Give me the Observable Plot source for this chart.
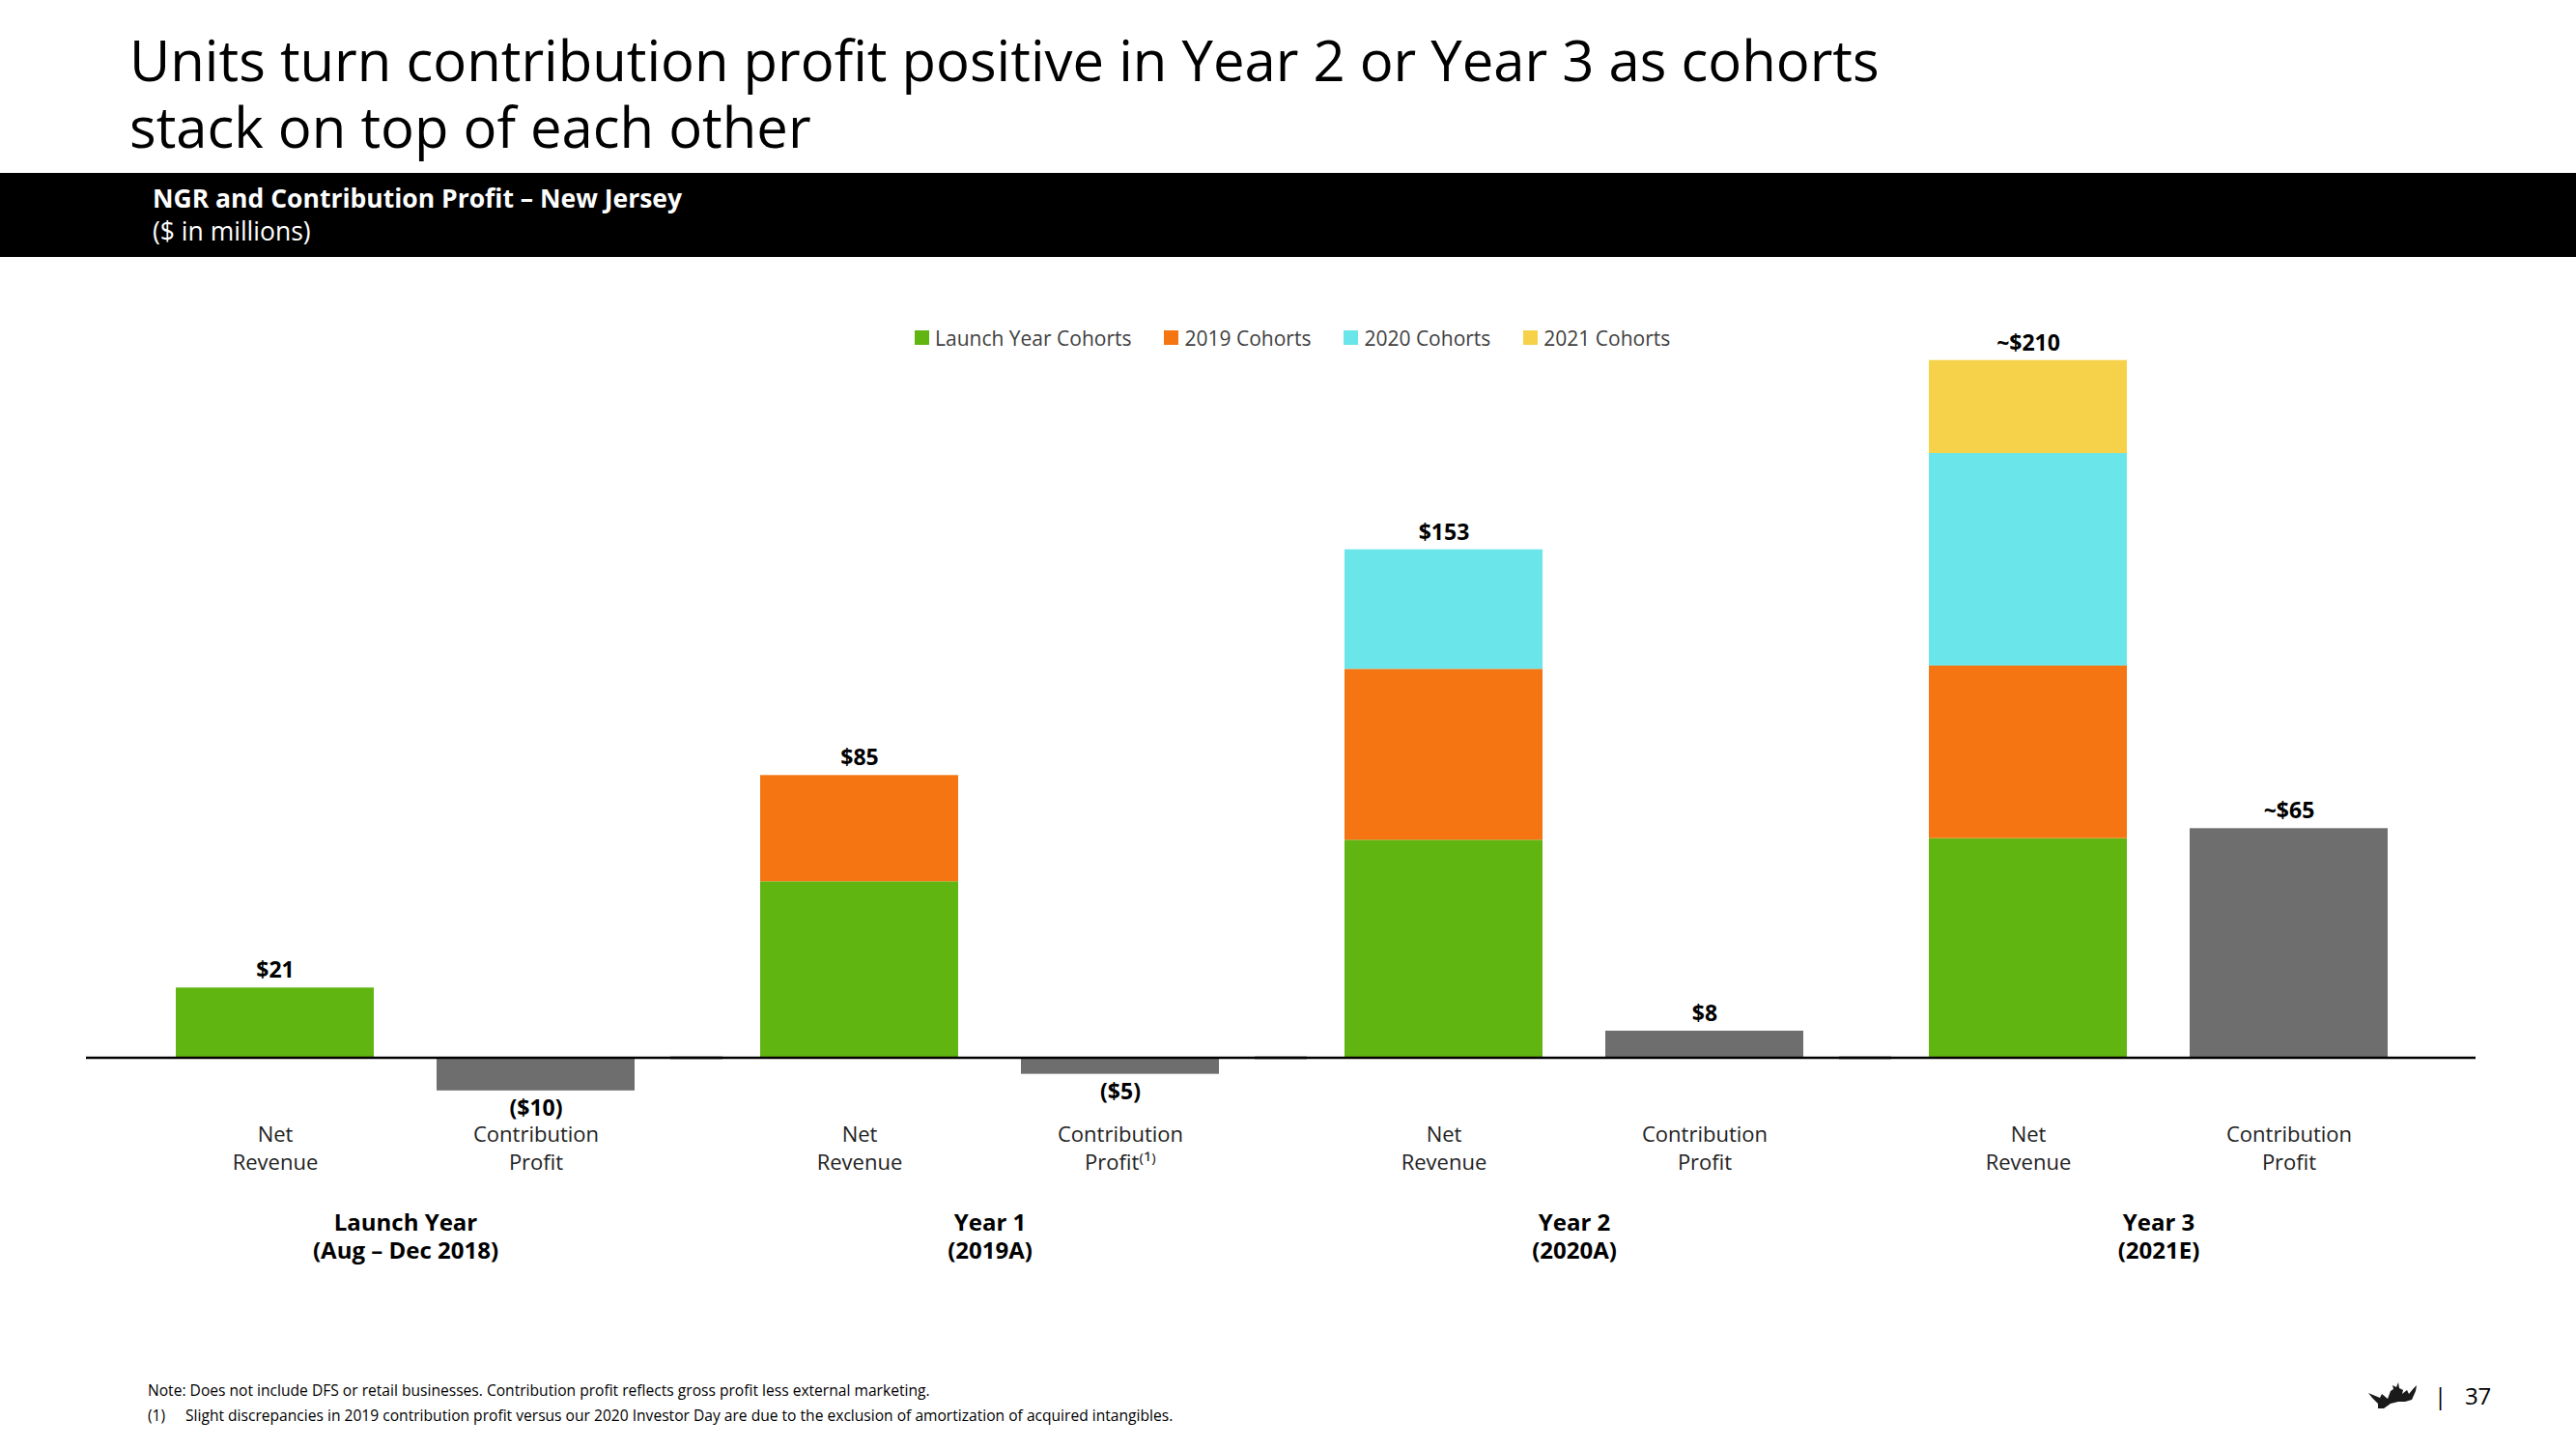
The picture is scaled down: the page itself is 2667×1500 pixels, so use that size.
<!DOCTYPE html>
<html><head><meta charset="utf-8">
<script src="https://cdn.jsdelivr.net/npm/d3@7"></script>
<script src="https://cdn.jsdelivr.net/npm/@observablehq/plot@0.6"></script>
<style>
body{margin:0;background:#fff;font-family:"Open Sans",sans-serif;}
#page{position:relative;width:2667px;height:1500px;overflow:hidden;background:#fff;}
#title{position:absolute;left:134px;top:27px;font-size:58px;line-height:69px;color:#000;white-space:nowrap;}
#band{position:absolute;left:0;top:179px;width:2667px;height:87px;background:#000;}
#sub1{position:absolute;left:158px;top:188px;font-size:26.5px;line-height:34px;font-weight:700;color:#fff;}
#sub2{position:absolute;left:158px;top:222px;font-size:26.5px;line-height:34px;color:#fff;}
#chart{position:absolute;left:0;top:266px;}
#legend{position:absolute;left:947px;top:333px;}
#legend .lg-swatch{margin-right:34px;}
#legend .lg-swatch > svg{margin-right:6px;}
#note{position:absolute;left:153px;top:1426px;font-size:15.6px;line-height:26px;color:#000;}
#note span{display:inline-block;width:39px;}
#pg{position:absolute;left:2520px;top:1428px;font-size:24px;color:#000;}
#crown{position:absolute;left:2450px;top:1425px;}
</style></head>
<body><div id="page">
<div id="title">Units turn contribution profit positive in Year 2 or Year 3 as cohorts<br>stack on top of each other</div>
<div id="band"></div>
<div id="sub1">NGR and Contribution Profit – New Jersey</div>
<div id="sub2">($ in millions)</div>
<div id="chart"></div>
<div id="legend"></div>
<div id="note">Note: Does not include DFS or retail businesses. Contribution profit reflects gross profit less external marketing.<br><span>(1)</span>Slight discrepancies in 2019 contribution profit versus our 2020 Investor Day are due to the exclusion of amortization of acquired intangibles.</div>
<svg id="crown" width="60" height="40" viewBox="0 0 60 40"><path d="M2 17 L14 22 L16 18 L22 23 L25 15 L28 13 L27 9 L31 11 L33 6 L34 12 L38 14 L37 18 L42 14 L44 18 L49 12 L52 9 L51 15 L47 24 L40 26 L33 26 L25 28 L18 33 L12 33 L12 28 L6 22 Z" fill="#1a1a1a"/></svg>
<div id="pg">|&nbsp;&nbsp;&nbsp;37</div>
</div>
<script>
const years = ["Launch Year\n(Aug – Dec 2018)", "Year 1\n(2019A)", "Year 2\n(2020A)", "Year 3\n(2021E)"];
const measures = ["Net Revenue", "Contribution Profit"];
const measureLabels = ["Net\nRevenue", "Contribution\nProfit"];
const profitNotes = ["", "⁽¹⁾", "", ""];
const cohorts = ["Launch Year Cohorts", "2019 Cohorts", "2020 Cohorts", "2021 Cohorts"];
const cohortColors = ["#60B511", "#F47511", "#6AE6EA", "#F5D24A"];
const profitColor = "#6E6E6E";
const launchCohort = [21, 53, 65.5, 66];
const cohort2019 = [0, 32, 51.5, 52];
const cohort2020 = [0, 0, 36, 64];
const cohort2021 = [0, 0, 0, 28];
// contribution profit bar heights as drawn (Year 3 bar is drawn at ~69 though labelled ~$65)
const contributionProfit = [-10, -5, 8, 69];
const revenueLabels = ["$21", "$85", "$153", "~$210"];
const profitLabels = ["($10)", "($5)", "$8", "~$65"];

const series = [launchCohort, cohort2019, cohort2020, cohort2021];
const revenueRows = years.flatMap((year, i) =>
  series.map((s, j) => ({year, measure: measures[0], cohort: cohorts[j], value: s[i]})).filter(d => d.value > 0));
const profitRows = years.map((year, i) => ({year, measure: measures[1], value: contributionProfit[i]}));
const labelRows = years.flatMap((year, i) => [
  {year, measure: measures[0], value: d3.sum(series, s => s[i]), label: revenueLabels[i], axis: measureLabels[0]},
  {year, measure: measures[1], value: contributionProfit[i], label: profitLabels[i], axis: measureLabels[1] + profitNotes[i]}
]);

const chart = Plot.plot({
  width: 2667, height: 1080,
  marginLeft: 85, marginRight: 98, marginTop: 38, marginBottom: 200,
  fx: {domain: years, paddingInner: 0, paddingOuter: 0.05, axis: null},
  x: {domain: measures, padding: 0.24, axis: null},
  y: {domain: [-15, 230], axis: null},
  color: {domain: cohorts, range: cohortColors},
  style: {fontFamily: "Open Sans", background: "white", color: "#000"},
  marks: [
    Plot.barY(revenueRows, {fx: "year", x: "measure", y: "value", fill: "cohort"}),
    Plot.barY(profitRows, {fx: "year", x: "measure", y: "value", fill: profitColor}),
    Plot.ruleY(years, {fx: d => d, y: () => 0, insetLeft: -28, insetRight: -26, stroke: "#000", strokeWidth: 2.5}),
    Plot.text(labelRows.filter(d => d.value >= 0), {fx: "year", x: "measure", y: "value", text: "label", dy: -18, fontWeight: 700, fontSize: 23}),
    Plot.text(labelRows.filter(d => d.value < 0), {fx: "year", x: "measure", y: "value", text: "label", dy: 18, fontWeight: 700, fontSize: 23}),
    Plot.text(labelRows, {fx: "year", x: "measure", text: "axis", frameAnchor: "bottom", lineAnchor: "top", dy: 15, fontSize: 22, lineHeight: 1.32, fill: "#222"}),
    Plot.text(years, {fx: d => d, text: d => d, frameAnchor: "bottom", lineAnchor: "top", dy: 107, fontWeight: 700, fontSize: 24, lineHeight: 1.2})
  ]
});
document.getElementById("chart").appendChild(chart);

const legend = Plot.legend({color: {domain: cohorts, range: cohortColors}, swatchSize: 15, className: "lg",
  style: {fontFamily: "Open Sans", fontSize: "21px", color: "#404040"}});
document.getElementById("legend").appendChild(legend);
</script>
</body></html>
